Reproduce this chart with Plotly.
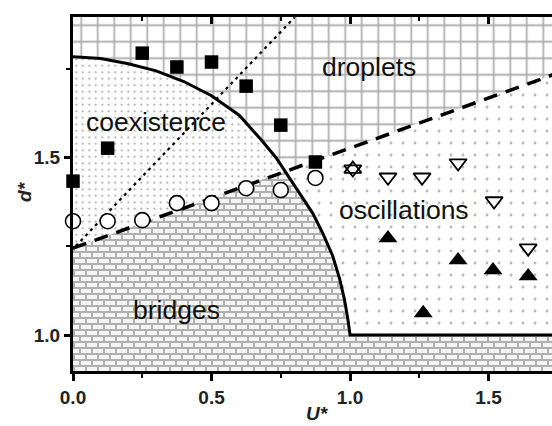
import base64
import plotly.graph_objects as go

# ---------------- data ----------------
sq_x = [0.0, 0.125, 0.25, 0.375, 0.5, 0.625, 0.75, 0.875]
sq_y = [1.434, 1.527, 1.795, 1.756, 1.770, 1.702, 1.592, 1.488]

circ_x = [0.0, 0.125, 0.25, 0.375, 0.5, 0.625, 0.75, 0.875]
circ_y = [1.321, 1.321, 1.324, 1.372, 1.372, 1.414, 1.409, 1.443]

tdown_x = [1.01, 1.137, 1.26, 1.39, 1.52, 1.643, 1.75]
tdown_y = [1.468, 1.445, 1.445, 1.485, 1.378, 1.245, 1.50]

tup_x = [1.137, 1.264, 1.39, 1.516, 1.643]
tup_y = [1.273, 1.062, 1.211, 1.183, 1.166]

star_x = [1.01]
star_y = [1.468]

# solid phase boundary (coexistence / bridges vs droplets / oscillations)
curve_x = [0.0, 0.1, 0.2, 0.3, 0.4, 0.5, 0.6, 0.68, 0.733, 0.765, 0.82, 0.865,
           0.901, 0.9375, 0.962, 0.98, 0.993, 1.0]
curve_y = [1.785, 1.780, 1.765, 1.745, 1.715, 1.675, 1.62, 1.55, 1.50, 1.462, 1.40,
           1.344, 1.288, 1.223, 1.16, 1.10, 1.04, 1.0]
split_x = 0.765  # where the dashed line meets the solid curve

floor_x = [1.0, 1.8]
floor_y = [1.0, 1.0]

dash_x = [0.0, 1.8]
dash_y = [1.245, 1.753]

dot_x = [0.01, 0.80]
dot_y = [1.251, 1.896]

region_names = ["droplets", "coexistence", "oscillations", "bridges"]
region_x = [1.067, 0.30, 1.193, 0.375]
region_y = [1.756, 1.600, 1.353, 1.071]

x_range = [0.0, 1.729]
y_range = [0.8985, 1.897]
x_ticks = [0.0, 0.5, 1.0, 1.5]
y_ticks = [1.0, 1.5]

# ---------------- figure ----------------
k = curve_x.index(split_x)
fig = go.Figure()

# droplets (grid) : above curve and above dashed line
fig.add_trace(go.Scatter(
    x=[curve_x[0]] + curve_x[:k + 1] + [dash_x[1], dash_x[1], curve_x[0]],
    y=[2.0] + curve_y[:k + 1] + [dash_y[1], 2.0, 2.0],
    mode="none", fill="toself", fillcolor="white",
    fillpattern=dict(shape="+", size=16.5, solidity=0.2, fgcolor="#adadad",
                     bgcolor="white", fillmode="replace"),
    hoverinfo="skip"))

# coexistence (fine dots): below curve, above dashed line
fig.add_trace(go.Scatter(
    x=curve_x[:k + 1] + [dash_x[0]],
    y=curve_y[:k + 1] + [dash_y[0]],
    mode="none", fill="toself", fillcolor="white",
    fillpattern=dict(shape=".", size=6.5, solidity=0.07, fgcolor="#969696",
                     bgcolor="white", fillmode="replace"),
    hoverinfo="skip"))

# oscillations (light marks): right of curve, above floor, below dashed line
fig.add_trace(go.Scatter(
    x=curve_x[k:] + [floor_x[1], dash_x[1]],
    y=curve_y[k:] + [floor_y[1], dash_y[1]],
    mode="none", fill="toself", fillcolor="white",
    fillpattern=dict(shape=".", size=12, solidity=0.045, fgcolor="#b8b8b8",
                     bgcolor="white", fillmode="replace"),
    hoverinfo="skip"))

# boundary lines
fig.add_trace(go.Scatter(x=dot_x, y=dot_y, mode="lines",
                         line=dict(color="black", width=2.2, dash="3px,4px"),
                         hoverinfo="skip"))
fig.add_trace(go.Scatter(x=dash_x, y=dash_y, mode="lines",
                         line=dict(color="black", width=3.5, dash="14px,9px"),
                         hoverinfo="skip"))
fig.add_trace(go.Scatter(x=curve_x + floor_x[1:], y=curve_y + floor_y[1:], mode="lines",
                         line=dict(color="black", width=3), hoverinfo="skip"))

# markers
fig.add_trace(go.Scatter(x=sq_x, y=sq_y, mode="markers", cliponaxis=False,
                         marker=dict(symbol="square", size=13.5, color="black",
                                     line=dict(width=0))))
fig.add_trace(go.Scatter(x=circ_x, y=circ_y, mode="markers", cliponaxis=False,
                         marker=dict(symbol="circle", size=15, color="white",
                                     line=dict(color="black", width=1.6))))
fig.add_trace(go.Scatter(x=tdown_x, y=tdown_y, mode="markers", cliponaxis=False,
                         marker=dict(symbol="triangle-down", size=15, color="white",
                                     line=dict(color="black", width=1.8))))
fig.add_trace(go.Scatter(x=star_x, y=star_y, mode="markers", cliponaxis=False,
                         marker=dict(symbol="triangle-up-open", size=15, color="black",
                                     line=dict(width=1.8))))
fig.add_trace(go.Scatter(x=tup_x, y=tup_y, mode="markers", cliponaxis=False,
                         marker=dict(symbol="triangle-up", size=16.5, color="black",
                                     line=dict(width=0))))

# helper trace for the top axis (invisible)
fig.add_trace(go.Scatter(x=sq_x, y=sq_y, xaxis="x2", mode="markers",
                         marker=dict(opacity=0), hoverinfo="skip"))

# region labels
for name, rx, ry in zip(region_names, region_x, region_y):
    fig.add_annotation(x=rx, y=ry, text=name, showarrow=False,
                       xanchor="center", yanchor="middle",
                       font=dict(family="Liberation Sans, Arial, sans-serif",
                                 size=26.5, color="#111"))

# axis titles
fig.add_annotation(xref="paper", yref="paper", x=0.511, y=-0.121, text="<b><i>U*</i></b>",
                   showarrow=False, xanchor="center", yanchor="middle",
                   font=dict(family="Liberation Sans, Arial, sans-serif", size=19, color="#222"))
fig.add_annotation(xref="paper", yref="paper", x=-0.100, y=0.506, text="<b><i>d*</i></b>",
                   showarrow=False, xanchor="center", yanchor="middle", textangle=-90,
                   font=dict(family="Liberation Sans, Arial, sans-serif", size=19, color="#222"))

# brick texture for the "bridges" region (background of the plot area)
W, H = 479, 354
svg = (f"<svg xmlns='http://www.w3.org/2000/svg' width='{W}' height='{H}'>"
       "<defs><pattern id='b' width='12' height='12' patternUnits='userSpaceOnUse'>"
       "<rect width='12' height='12' fill='#b0b0b0'/>"
       "<rect x='2' y='2' width='10' height='4' fill='#f5f5f5'/>"
       "<rect x='8' y='8' width='10' height='4' fill='#f5f5f5'/>"
       "<rect x='-4' y='8' width='10' height='4' fill='#f5f5f5'/>"
       "</pattern></defs>"
       f"<rect width='{W}' height='{H}' fill='url(#b)'/></svg>")
src = "data:image/svg+xml;base64," + base64.b64encode(svg.encode()).decode()
fig.add_layout_image(dict(source=src, xref="paper", yref="paper", x=0, y=1,
                          sizex=1, sizey=1, xanchor="left", yanchor="top",
                          sizing="stretch", layer="below"))

tickfont = dict(family="Liberation Sans, Arial, sans-serif", size=19, color="#222",
                weight="bold")
fig.update_layout(
    width=552, height=426,
    margin=dict(l=73, r=0, t=17, b=55),
    paper_bgcolor="white", plot_bgcolor="white",
    showlegend=False,
    xaxis=dict(range=x_range, showgrid=False, zeroline=False, showline=True,
               linecolor="black", linewidth=3, mirror=True,
               ticks="outside", ticklen=7, tickwidth=2.5, tickcolor="black",
               tickvals=x_ticks, tickformat=".1f", tickfont=tickfont,
               minor=dict(dtick=0.25, tick0=0, ticks="outside", ticklen=4,
                          tickwidth=2, tickcolor="black")),
    xaxis2=dict(range=x_range, overlaying="x", side="top", anchor="y",
                showgrid=False, zeroline=False, showline=False,
                ticks="inside", ticklen=7, tickwidth=2.5, tickcolor="black",
                tickvals=x_ticks, showticklabels=False,
                minor=dict(dtick=0.25, tick0=0, ticks="inside", ticklen=4,
                           tickwidth=2, tickcolor="black")),
    yaxis=dict(range=y_range, showgrid=False, zeroline=False, showline=True,
               linecolor="black", linewidth=3, mirror=False,
               ticks="outside", ticklen=6, tickwidth=2.5, tickcolor="black",
               tickvals=y_ticks, tickformat=".1f", tickfont=tickfont,
               minor=dict(dtick=0.25, tick0=0, ticks="outside", ticklen=4,
                          tickwidth=2, tickcolor="black")),
)

fig.write_html("out.html", config={"displayModeBar": False},
               post_script="document.body.style.margin='0';document.body.style.overflow='hidden';")
